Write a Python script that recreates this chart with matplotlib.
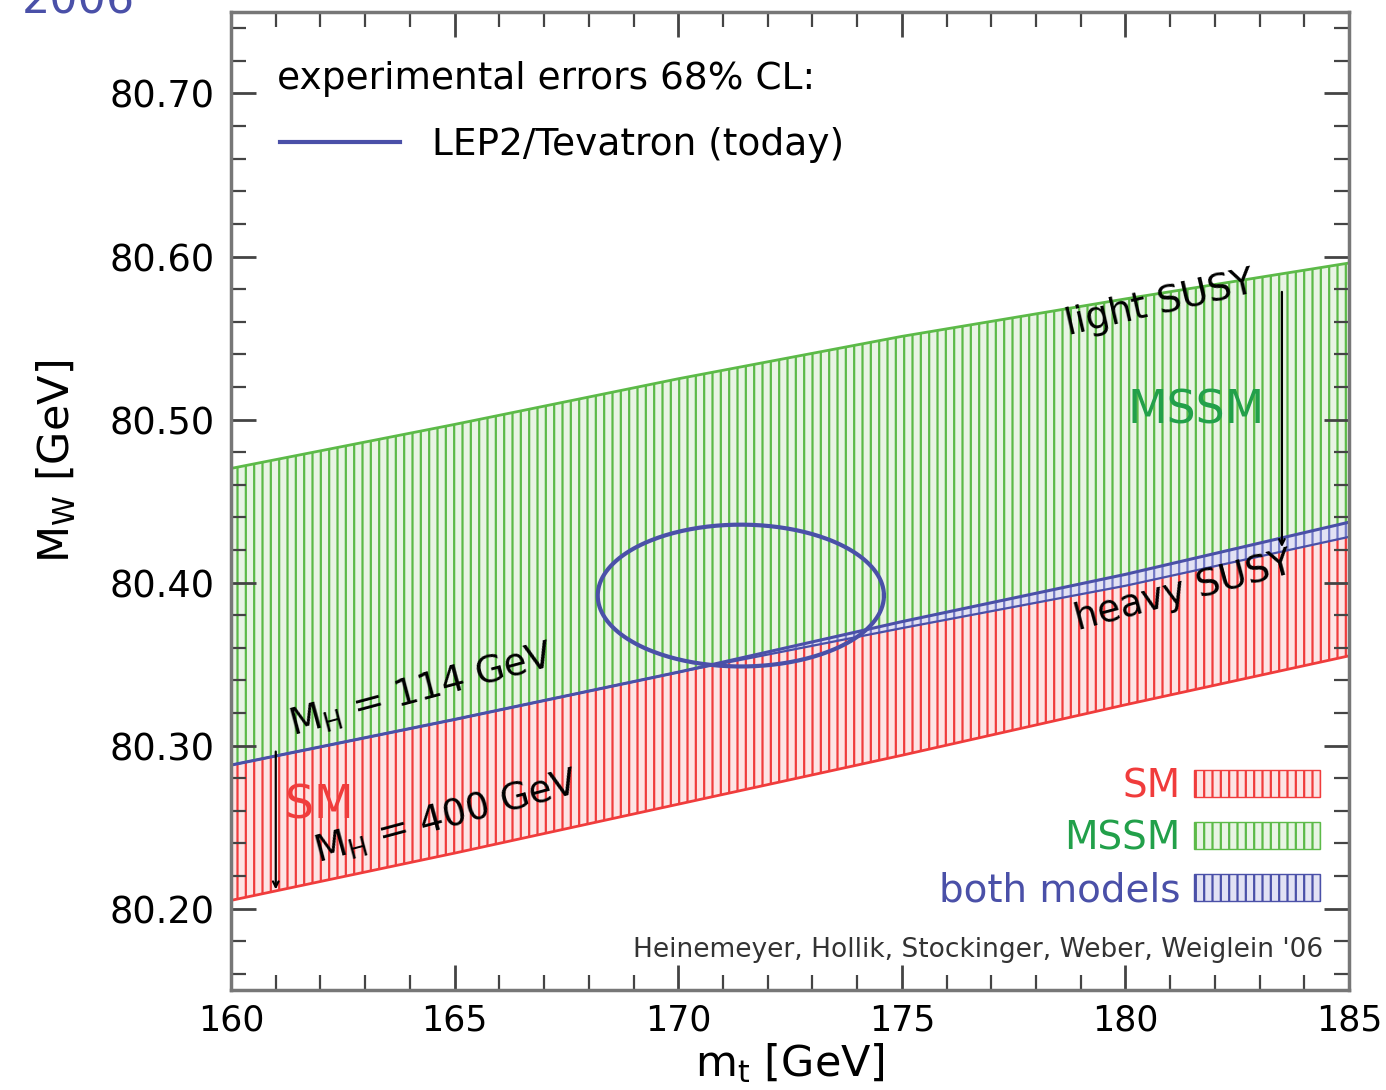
import matplotlib.pyplot as plt
import numpy as np
from matplotlib.patches import Patch
from matplotlib.lines import Line2D

plt.rcParams['font.family'] = ['DejaVu Sans']
plt.rcParams['mathtext.fontset'] = 'dejavusans'
plt.rcParams['hatch.linewidth'] = 1.6

# top-quark mass grid [GeV]
mt = [160, 165, 170, 175, 180, 185]
# MSSM band (light SUSY upper edge, heavy SUSY lower edge)
mssm_upper = [80.470, 80.497, 80.525, 80.551, 80.574, 80.596]
mssm_lower = [80.288, 80.316, 80.345, 80.372, 80.398, 80.428]
# SM band (MH = 114 GeV upper edge, MH = 400 GeV lower edge)
sm_upper = [80.288, 80.316, 80.345, 80.376, 80.405, 80.437]
sm_lower = [80.205, 80.234, 80.264, 80.294, 80.325, 80.355]

# experimental 68% CL ellipse (LEP2/Tevatron)
ell_mt, ell_mw = 171.4, 80.392
ell_dmt, ell_dmw = 3.2, 0.0435

green, green_fc = '#5cba48', '#e8f4e4'
red, red_fc = '#f03c3c', '#fde4e4'
blue, blue_fc = '#4a50a8', '#e2e2f4'
blue_h = '#7278c4'

fig = plt.figure(figsize=(13.86, 10.9), dpi=100)
ax = fig.add_axes([0.1667, 0.0917, 0.8066, 0.8973])

x = np.array(mt)
ax.fill_between(x, mssm_lower, mssm_upper, facecolor=green_fc, edgecolor=green,
                hatch='||', linewidth=0)
ax.fill_between(x, sm_lower, sm_upper, facecolor=red_fc, edgecolor=red,
                hatch='||', linewidth=0)
ax.fill_between(x, mssm_lower, sm_upper, where=np.array(sm_upper) >= np.array(mssm_lower),
                facecolor=blue_fc, edgecolor=blue_h, hatch='||', linewidth=0)
ax.plot(x, mssm_upper, color=green, lw=2)
ax.plot(x, sm_lower, color=red, lw=2)
ax.plot(x, sm_upper, color=blue, lw=2.2)
ax.plot(x, mssm_lower, color=blue, lw=1.6)

t = np.linspace(0, 2 * np.pi, 300)
ax.plot(ell_mt + ell_dmt * np.cos(t), ell_mw + ell_dmw * np.sin(t), color=blue, lw=3)

# arrows
ax.annotate('', xy=(161.0, 80.210), xytext=(161.0, 80.298),
            arrowprops=dict(arrowstyle='->', color='black', lw=1.6))
ax.annotate('', xy=(183.5, 80.420), xytext=(183.5, 80.580),
            arrowprops=dict(arrowstyle='->', color='black', lw=1.6))

rot = dict(rotation_mode='anchor', ha='left', va='baseline')
ax.text(161.39, 80.306, r'M$_\mathregular{H}$ = 114 GeV', fontsize=27, rotation=15, **rot)
ax.text(161.95, 80.228, r'M$_\mathregular{H}$ = 400 GeV', fontsize=27, rotation=15, **rot)
ax.text(178.72, 80.552, 'light SUSY', fontsize=27, rotation=13, **rot)
ax.text(178.94, 80.371, 'heavy SUSY', fontsize=27, rotation=15, **rot)
ax.text(161.2, 80.263, 'SM', fontsize=33, color=red, ha='left', va='center')
ax.text(183.12, 80.505, 'MSSM', fontsize=33, color='#22a04a', ha='right', va='center')

ax.text(161.03, 80.709, 'experimental errors 68% CL:', fontsize=27, ha='left', va='center')
leg1 = ax.legend(handles=[Line2D([], [], color=blue, lw=3)], labels=['LEP2/Tevatron (today)'],
                 loc='center left', bbox_to_anchor=(0.014, 0.864), frameon=False,
                 fontsize=27, handlelength=3.2, handletextpad=0.85)
ax.add_artist(leg1)

handles = [Patch(facecolor=red_fc, edgecolor=red, hatch='||'),
           Patch(facecolor=green_fc, edgecolor=green, hatch='||'),
           Patch(facecolor=blue_fc, edgecolor=blue, hatch='||')]
leg2 = ax.legend(handles=handles, labels=['SM', 'MSSM', 'both models'],
                 loc='lower right', bbox_to_anchor=(1.005, 0.047), frameon=False,
                 fontsize=28, markerfirst=False, handlelength=3.24, handleheight=0.72,
                 labelspacing=0.36, handletextpad=0.33, labelcolor=[red, '#22a04a', blue])

ax.text(0.977, 0.041, "Heinemeyer, Hollik, Stockinger, Weber, Weiglein '06",
        transform=ax.transAxes, fontsize=19, color='#333333', ha='right', va='center')

fig.text(0.016, 0.988, '2006', fontsize=32, color=blue, ha='left', va='baseline')

ax.set_xlim(160, 185)
ax.set_ylim(80.15, 80.75)
ax.set_xticks([160, 165, 170, 175, 180, 185])
ax.set_xticks(np.arange(160, 186, 1), minor=True)
ax.set_yticks([80.2, 80.3, 80.4, 80.5, 80.6, 80.7])
ax.set_yticklabels(['80.20', '80.30', '80.40', '80.50', '80.60', '80.70'])
ax.set_yticks(np.arange(80.16, 80.75, 0.02), minor=True)
ax.tick_params(which='both', direction='in', top=True, right=True, colors='#444444',
               labelcolor='black')
ax.tick_params(axis='x', labelsize=25, pad=10)
ax.tick_params(axis='y', labelsize=26.5, pad=12)
ax.tick_params(which='major', length=18, width=2)
ax.tick_params(which='minor', length=11, width=1.6)
for s in ax.spines.values():
    s.set_color('#777777')
    s.set_linewidth(2.5)

ax.set_xlabel(r'm$_\mathregular{t}$ [GeV]', fontsize=31, labelpad=2)
ax.set_ylabel(r'M$_\mathregular{W}$ [GeV]', fontsize=31)
ax.yaxis.set_label_coords(-0.137, 0.54)

fig.savefig('out.png', dpi=100)
